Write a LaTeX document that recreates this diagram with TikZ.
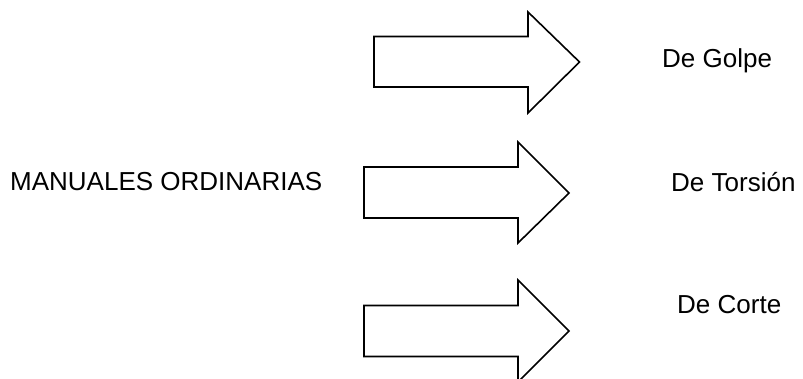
\documentclass[tikz,border=0pt]{standalone}
\usepackage{fontspec}
\setmainfont{Liberation Sans}
\begin{document}
\begin{tikzpicture}[x=1pt,y=-1pt,
  blockarrow/.style={draw=black,line width=1.6pt,line join=miter,fill=white},
  lbl/.style={anchor=base west,inner sep=0pt,font=\fontsize{26}{30}\selectfont}]
\useasboundingbox (0,0) rectangle (803,379);
% arrows
\draw[blockarrow] (374,36.5) -- (528,36.5) -- (528,12) -- (579.5,62) -- (528,113) -- (528,87) -- (374,87) -- cycle;
\draw[blockarrow] (364,167) -- (518,167) -- (518,142) -- (569,193) -- (518,243) -- (518,218) -- (364,218) -- cycle;
\draw[blockarrow] (364,305.5) -- (518,305.5) -- (518,280) -- (569,331) -- (518,382) -- (518,356.5) -- (364,356.5) -- cycle;
% labels
\node[lbl] (main) at (10,190.7) {MANUALES ORDINARIAS};
\node[lbl] (golpe) at (662,67.7) {De Golpe};
\node[lbl] (torsion) at (671,191.7) {De Torsión};
\node[lbl] (corte) at (677,313.3) {De Corte};
\end{tikzpicture}
\end{document}
